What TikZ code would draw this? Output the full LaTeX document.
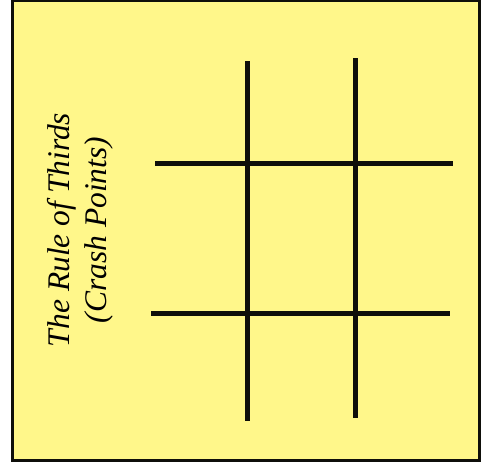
\documentclass[tikz,border=0pt]{standalone}
\usepackage{fontspec}
\setmainfont{Liberation Serif}
\definecolor{paper}{RGB}{255,247,138}
\definecolor{ink}{RGB}{15,15,10}
\tikzset{
  frame/.style={draw=ink, fill=paper, line width=2.5pt},
  gridline/.style={draw=ink, line width=5pt},
  title/.style={rotate=90, align=center, font=\fontsize{31.5}{37}\selectfont\itshape}
}
\begin{document}
\begin{tikzpicture}[x=1pt,y=-1pt]
\useasboundingbox (0,0) rectangle (481,475);
\path[frame] (12.5,1) rectangle (479.5,460.5);
\coordinate (v1t) at (247.5,61);
\coordinate (v1b) at (247.5,421);
\coordinate (v2t) at (355.8,58);
\coordinate (v2b) at (355.8,418);
\coordinate (h1l) at (155,163.3);
\coordinate (h1r) at (453,163.3);
\coordinate (h2l) at (151,313.3);
\coordinate (h2r) at (450,313.3);
\draw[gridline] (v1t) -- (v1b);
\draw[gridline] (v2t) -- (v2b);
\draw[gridline] (h1l) -- (h1r);
\draw[gridline] (h2l) -- (h2r);
\node[title] (t) at (80,230) {The Rule of Thirds\\(Crash Points)};
\end{tikzpicture}
\end{document}
